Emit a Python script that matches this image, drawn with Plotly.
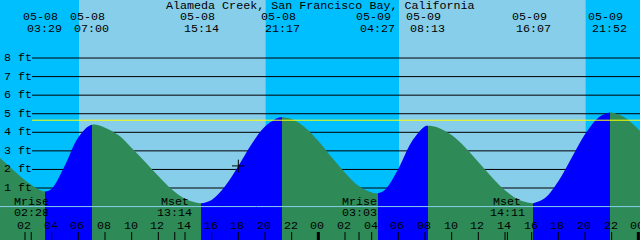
import plotly.graph_objects as go

# ---------------- data ----------------
title_text = "Alameda Creek, San Francisco Bay, California"

# tide heights (hours after 05-08 00:00, feet)
tide_hours = [0, 1, 2, 3, 3.483, 4, 5, 6, 7.0, 8, 9, 10, 11, 12, 13, 14, 15, 15.233,
              16, 17, 18, 19, 20, 21, 21.283, 22, 23, 24, 25, 26, 27, 28, 28.45,
              29, 30, 31, 32, 32.217, 33, 34, 35, 36, 37, 38, 39, 40, 40.117,
              41, 42, 43, 44, 45, 45.867, 46, 47, 48, 49]
tide_feet = [2.70, 2.05, 1.42, 0.93, 0.81, 0.96, 2.22, 3.73, 4.40, 4.25, 3.85, 3.16, 2.42, 1.64, 0.93, 0.42, 0.19, 0.18,
             0.36, 1.09, 2.18, 3.37, 4.31, 4.78, 4.81, 4.71, 4.26, 3.53, 2.65, 1.82, 1.12, 0.76, 0.72,
             0.91, 2.04, 3.49, 4.32, 4.35, 4.25, 3.85, 3.20, 2.40, 1.59, 0.88, 0.38, 0.18, 0.18,
             0.46, 1.36, 2.63, 3.89, 4.79, 5.06, 5.06, 4.79, 4.17, 3.30]

event_hours = [3.483, 7.0, 15.233, 21.283, 28.45, 32.217, 40.117, 45.867]
event_kinds = ["L", "H", "L", "H", "L", "H", "L", "H"]
event_dates = ["05-08", "05-08", "05-08", "05-08", "05-09", "05-09", "05-09", "05-09"]
event_times = ["03:29", "07:00", "15:14", "21:17", "04:27", "08:13", "16:07", "21:52"]

sunrise_hours = [6.05, 30.05]
sunset_hours = [20.05, 44.05]

moon_hours = [2.467, 13.233, 27.05, 38.183]
moon_names = ["Mrise", "Mset", "Mrise", "Mset"]
moon_times = ["02:28", "13:14", "03:03", "14:11"]

hour_ticks = [0, 2, 4, 6, 8, 10, 12, 14, 16, 18, 20, 22, 24,
              26, 28, 30, 32, 34, 36, 38, 40, 42, 44, 46, 48]
hour_labels = ["00", "02", "04", "06", "08", "10", "12", "14", "16", "18", "20", "22", "00",
               "02", "04", "06", "08", "10", "12", "14", "16", "18", "20", "22", "00"]
midnight_hours = [0, 24, 48]

ft_levels = [1, 2, 3, 4, 5, 6, 7, 8]
ft_labels = ["1 ft", "2 ft", "3 ft", "4 ft", "5 ft", "6 ft", "7 ft", "8 ft"]
mark_level = 4.65
now_hour = 18.0
now_feet = 2.19

# ---------------- style ----------------
W, H = 640, 240
X_RANGE = [0.125, 48.125]
Y_RANGE = [-1.80, 11.125]
NIGHT = "#00BFFF"
DAY = "#87CEEB"
RISE = "#0000FF"
FALL = "#2E8B57"
FONT = dict(family="Liberation Mono, DejaVu Sans Mono, monospace", size=11.7, color="black")


def py(pix):
    return 1 - pix / H


fig = go.Figure()

# stepped horizontal gradient: blue while rising (low -> high), green while falling
t0, t1 = tide_hours[0], tide_hours[-1]
cur = FALL if event_kinds[0] == "L" else RISE
cscale = [[0.0, cur]]
for t, k in zip(event_hours, event_kinds):
    f = (t - t0) / (t1 - t0)
    nxt = RISE if k == "L" else FALL
    cscale.append([f, cur])
    cscale.append([f, nxt])
    cur = nxt
cscale.append([1.0, cur])

fig.add_trace(go.Scatter(x=[t0, t1], y=[-3, -3], mode="lines", line=dict(width=0),
                         showlegend=False, hoverinfo="skip"))
fig.add_trace(go.Scatter(x=tide_hours, y=tide_feet, mode="lines", fill="tonexty",
                         fillgradient=dict(type="horizontal", colorscale=cscale, start=t0, stop=t1),
                         line=dict(width=0, shape="spline", smoothing=1),
                         showlegend=False, hoverinfo="skip"))

fig.add_trace(go.Scatter(x=[now_hour], y=[now_feet], mode="markers",
                         marker=dict(symbol="cross-thin", size=9, line=dict(color="black", width=1)),
                         showlegend=False, hoverinfo="skip"))

shapes = []
for r, s in zip(sunrise_hours, sunset_hours):
    shapes.append(dict(type="rect", xref="x", yref="paper", x0=r, x1=s, y0=0, y1=1,
                       fillcolor=DAY, line=dict(width=0), layer="below"))
for lv in ft_levels:
    shapes.append(dict(type="line", xref="paper", yref="y", x0=32 / W, x1=1, y0=lv, y1=lv,
                       line=dict(color="black", width=1), layer="below"))
shapes.append(dict(type="line", xref="paper", yref="y", x0=32 / W, x1=1, y0=mark_level, y1=mark_level,
                   line=dict(color="#FFFF00", width=1), layer="above"))
shapes.append(dict(type="line", xref="paper", yref="y", x0=0, x1=1, y0=0, y1=0,
                   line=dict(color=DAY, width=1), layer="above"))
for t in hour_ticks:
    wide = t in midnight_hours
    shapes.append(dict(type="line", xref="x", yref="paper", x0=t, x1=t, y0=0, y1=8 / H,
                       line=dict(color="black", width=3 if wide else 1), layer="above"))
for t in moon_hours:
    shapes.append(dict(type="line", xref="x", yref="paper", x0=t, x1=t, y0=0, y1=8 / H,
                       line=dict(color="black", width=1), layer="above"))

ann = []
ann.append(dict(text=title_text, xref="paper", yref="paper", x=0.5, y=py(5.5),
                xanchor="center", yanchor="middle", showarrow=False, font=FONT))
for t, d, s in zip(event_hours, event_dates, event_times):
    ann.append(dict(text=d, xref="x", yref="paper", x=t, y=py(16.7), xshift=-4,
                    xanchor="center", yanchor="middle", showarrow=False, font=FONT))
    ann.append(dict(text=s, xref="x", yref="paper", x=t, y=py(29),
                    xanchor="center", yanchor="middle", showarrow=False, font=FONT))
for lv, lab in zip(ft_levels, ft_labels):
    ann.append(dict(text=lab, xref="paper", yref="y", x=2 / W, y=lv,
                    xanchor="left", yanchor="middle", showarrow=False, font=FONT))
for t, n, s in zip(moon_hours, moon_names, moon_times):
    ann.append(dict(text=n, xref="x", yref="paper", x=t, y=py(202),
                    xanchor="center", yanchor="middle", showarrow=False, font=FONT))
    ann.append(dict(text=s, xref="x", yref="paper", x=t, y=py(212.8),
                    xanchor="center", yanchor="middle", showarrow=False, font=FONT))
for t, lab in zip(hour_ticks, hour_labels):
    ann.append(dict(text=lab, xref="x", yref="paper", x=t, y=py(225.8), xshift=-1,
                    xanchor="center", yanchor="middle", showarrow=False, font=FONT))

fig.update_layout(
    width=W, height=H, margin=dict(l=0, r=0, t=0, b=0),
    paper_bgcolor=NIGHT, plot_bgcolor=NIGHT,
    xaxis=dict(range=X_RANGE, visible=False, showgrid=False, zeroline=False, fixedrange=True),
    yaxis=dict(range=Y_RANGE, visible=False, showgrid=False, zeroline=False, fixedrange=True),
    shapes=shapes, annotations=ann, showlegend=False,
)

fig.write_html("out.html", config={"displayModeBar": False})
